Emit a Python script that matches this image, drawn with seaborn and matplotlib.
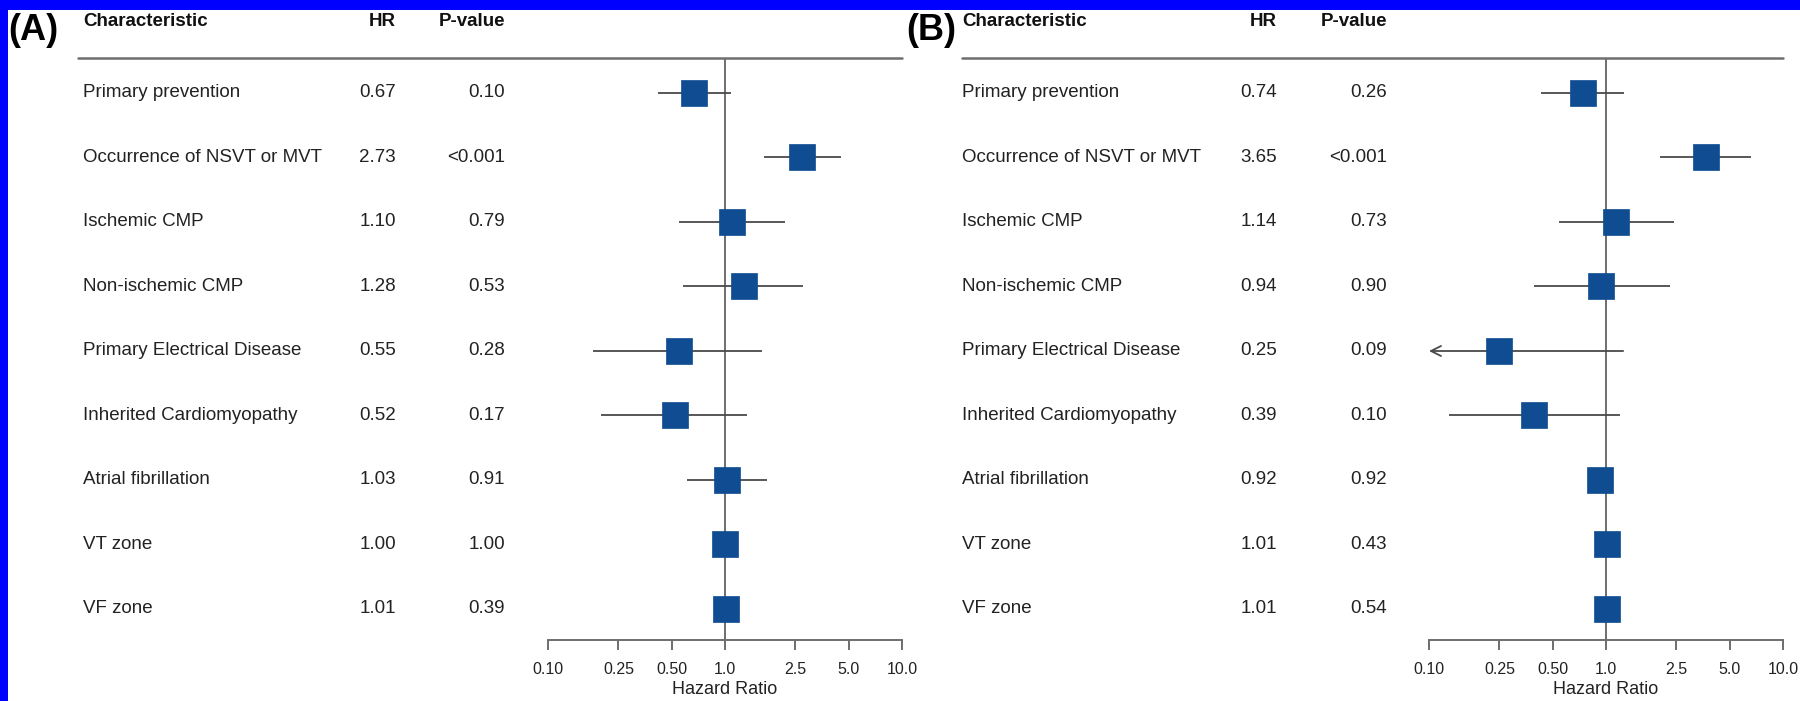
import numpy as np
import pandas as pd
import matplotlib
matplotlib.use("Agg")
import matplotlib.pyplot as plt
import matplotlib.transforms as mtransforms
from matplotlib.lines import Line2D
from matplotlib.patches import Rectangle
import seaborn as sns

sns.set_theme(style="white")
plt.rcParams['font.family'] = ['Liberation Sans', 'DejaVu Sans']

# ---------------- data ----------------
characteristics = ["Primary prevention", "Occurrence of NSVT or MVT", "Ischemic CMP",
                   "Non-ischemic CMP", "Primary Electrical Disease", "Inherited Cardiomyopathy",
                   "Atrial fibrillation", "VT zone", "VF zone"]

a_hr = [0.67, 2.73, 1.10, 1.28, 0.55, 0.52, 1.03, 1.00, 1.01]
a_lo = [0.42, 1.66, 0.55, 0.58, 0.18, 0.20, 0.61, 0.99, 1.00]
a_hi = [1.08, 4.52, 2.18, 2.76, 1.62, 1.33, 1.73, 1.01, 1.02]
a_hr_text = ["0.67", "2.73", "1.10", "1.28", "0.55", "0.52", "1.03", "1.00", "1.01"]
a_p_text = ["0.10", "<0.001", "0.79", "0.53", "0.28", "0.17", "0.91", "1.00", "0.39"]

b_hr = [0.74, 3.65, 1.14, 0.94, 0.25, 0.39, 0.92, 1.01, 1.01]
b_lo = [0.43, 2.02, 0.54, 0.39, 0.06, 0.13, 0.90, 1.00, 1.00]
b_hi = [1.27, 6.60, 2.42, 2.30, 1.25, 1.20, 0.94, 1.02, 1.02]
b_hr_text = ["0.74", "3.65", "1.14", "0.94", "0.25", "0.39", "0.92", "1.01", "1.01"]
b_p_text = ["0.26", "<0.001", "0.73", "0.90", "0.09", "0.10", "0.92", "0.43", "0.54"]

tick_values = [0.10, 0.25, 0.50, 1.0, 2.5, 5.0, 10.0]
tick_labels = ["0.10", "0.25", "0.50", "1.0", "2.5", "5.0", "10.0"]

# ---------------- layout helpers (pixels) ----------------
W, H = 1800, 701
fig = plt.figure(figsize=(W / 100, H / 100), dpi=100)
fig.patch.set_facecolor("#0000ff")
fig.add_artist(Rectangle((8 / W, 0), 1 - 8 / W, 1 - 10 / H, transform=fig.transFigure,
                         facecolor="white", edgecolor="none", zorder=0))

def fx(px):
    return px / W

ROW0, ROWSTEP = 93.0, 64.5
RULE_Y, AXIS_Y = 58.0, 640.0
SQ_COLOR = "#0f4c92"
LINE_COLOR = "#4a4a4a"
GRID_COLOR = "#6e6e6e"
FS = 13.5


def panel(x_axis0, x_axis1, x_label, x_hr, x_p, rule_x0, tag, tag_x,
          hr, lo, hi, hr_text, p_text):
    ax = fig.add_axes([fx(x_axis0), 1 - AXIS_Y / H, fx(x_axis1 - x_axis0), (AXIS_Y - RULE_Y) / H])
    ax.set_facecolor("none")
    n = len(characteristics)
    y_top = (RULE_Y - ROW0) / ROWSTEP
    y_bot = (AXIS_Y - ROW0) / ROWSTEP
    ax.set_xscale("log")
    ax.set_xlim(0.1, 10)
    ax.set_ylim(y_bot, y_top)

    df = pd.DataFrame({"char": characteristics, "hr": hr, "lo": lo, "hi": hi,
                       "row": np.arange(n)})

    # reference line
    ax.axvline(1.0, color=GRID_COLOR, lw=1.4, zorder=1)

    # confidence intervals
    for _, r in df.iterrows():
        if r["lo"] < 0.1:
            ax.annotate("", xy=(0.1, r["row"]), xytext=(r["hi"], r["row"]),
                        arrowprops=dict(arrowstyle="->", color=LINE_COLOR, lw=1.3,
                                        mutation_scale=18, shrinkA=0, shrinkB=0),
                        zorder=2)
        else:
            ax.hlines(r["row"], r["lo"], r["hi"], color=LINE_COLOR, lw=1.3, zorder=2)

    sns.scatterplot(data=df, x="hr", y="row", marker="s", s=19 ** 2, color=SQ_COLOR,
                    edgecolor=SQ_COLOR, linewidth=0.5, ax=ax, zorder=3, legend=False)

    # axes styling
    for s in ["top", "right", "left"]:
        ax.spines[s].set_visible(False)
    ax.spines["bottom"].set_color(GRID_COLOR)
    ax.spines["bottom"].set_linewidth(1.4)
    ax.set_yticks([])
    ax.set_xticks(tick_values)
    ax.set_xticklabels(tick_labels)
    ax.minorticks_off()
    ax.tick_params(axis="x", which="major", direction="out", length=7, width=1.4,
                   color=GRID_COLOR, labelsize=11.5, pad=9, labelcolor="#222222", bottom=True)
    ax.set_xlabel("Hazard Ratio", fontsize=13, color="#222222", labelpad=3)
    ax.set_ylabel("")

    tr = mtransforms.blended_transform_factory(fig.transFigure, ax.transData)
    head_y = (22 - ROW0) / ROWSTEP
    ax.text(fx(x_label), head_y, "Characteristic", transform=tr, fontsize=FS,
            fontweight="bold", ha="left", va="center", color="#111111")
    ax.text(fx(x_hr), head_y, "HR", transform=tr, fontsize=FS,
            fontweight="bold", ha="right", va="center", color="#111111")
    ax.text(fx(x_p), head_y, "P-value", transform=tr, fontsize=FS,
            fontweight="bold", ha="right", va="center", color="#111111")
    for i in range(n):
        ax.text(fx(x_label), i, characteristics[i], transform=tr, fontsize=FS,
                ha="left", va="center", color="#222222")
        ax.text(fx(x_hr), i, hr_text[i], transform=tr, fontsize=FS,
                ha="right", va="center", color="#222222")
        ax.text(fx(x_p), i, p_text[i], transform=tr, fontsize=FS,
                ha="right", va="center", color="#222222")

    # header rule
    fig.add_artist(Line2D([fx(rule_x0), fx(x_axis1)], [1 - RULE_Y / H, 1 - RULE_Y / H],
                          transform=fig.transFigure, color=GRID_COLOR, lw=1.8))
    fig.text(fx(tag_x), 1 - 31 / H, tag, fontsize=26, fontweight="bold",
             ha="left", va="center", color="black")
    return ax


panel(548, 902, 83, 396, 505, 78, "(A)", 8, a_hr, a_lo, a_hi, a_hr_text, a_p_text)
panel(1429, 1783, 962, 1277, 1387, 962, "(B)", 906, b_hr, b_lo, b_hi, b_hr_text, b_p_text)

fig.savefig("out.png", dpi=100, facecolor=fig.get_facecolor())
